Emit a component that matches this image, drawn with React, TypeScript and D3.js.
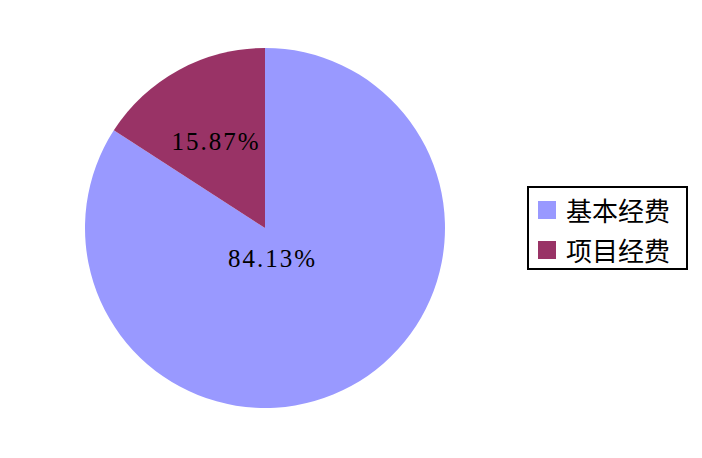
import React from "react";
import * as d3 from "d3";

const categories = ["基本经费", "项目经费"];
const values = [84.13, 15.87];
const labels = ["84.13%", "15.87%"];
const colors = ["#9999FF", "#993366"];

export default function App() {
  const width = 702;
  const height = 458;
  const cx = 265;
  const cy = 228;
  const r = 180;
  const labelR = [0.17, 0.57];
  const pie = d3.pie<number>().sort(null).startAngle(0).endAngle(2 * Math.PI);
  const arcs = pie(values);
  const arc = d3.arc<d3.PieArcDatum<number>>().innerRadius(0).outerRadius(r);
  return (
    <svg width={width} height={height} style={{ position: "absolute", left: 0, top: 0 }}>
      <rect width={width} height={height} fill="#fff" />
      <g transform={`translate(${cx},${cy})`}>
        {arcs.map((a, i) => (
          <path key={i} d={arc(a) || ""} fill={colors[i]} />
        ))}
        {arcs.map((a, i) => {
          const la = d3.arc<d3.PieArcDatum<number>>().innerRadius(r * labelR[i]).outerRadius(r * labelR[i]);
          const [x, y] = la.centroid(a);
          return (
            <text
              key={"l" + i}
              x={i === 0 ? x - 7 : x}
              y={y + 4}
              textAnchor="middle"
              dominantBaseline="central"
              fontFamily="'Liberation Serif', serif"
              fontSize={25}
              letterSpacing={2}
              fill="#000"
            >
              {labels[i]}
            </text>
          );
        })}
      </g>
      <rect x={528} y={187} width={159} height={82} fill="#fff" stroke="#000" strokeWidth={2} />
      {categories.map((c, i) => (
        <g key={c} transform={`translate(538,${201 + i * 40})`}>
          <rect width={18} height={18} fill={colors[i]} />
          <text
            x={28}
            y={8}
            dominantBaseline="central"
            fontFamily="'Noto Sans CJK SC', sans-serif"
            fontSize={26}
            fill="#000"
          >
            {c}
          </text>
        </g>
      ))}
    </svg>
  );
}
